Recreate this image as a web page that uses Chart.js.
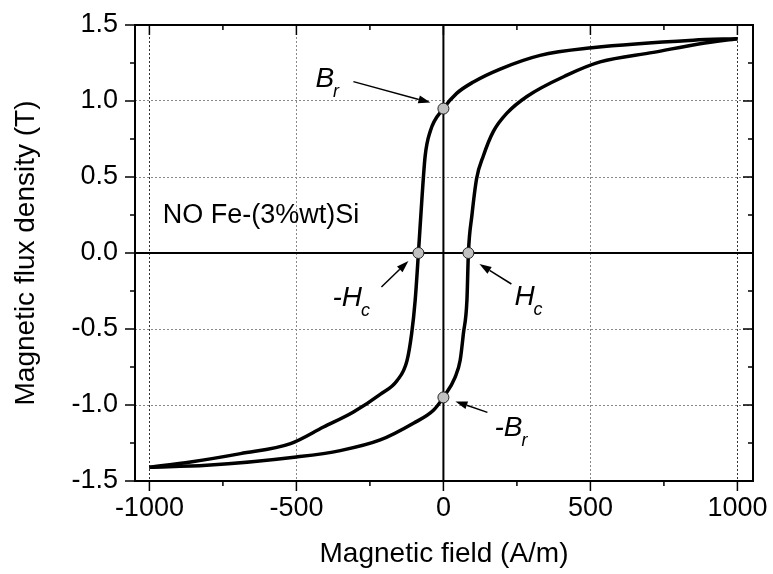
<!DOCTYPE html>
<html>
<head>
<meta charset="utf-8">
<title>Hysteresis loop</title>
<script src="https://cdn.jsdelivr.net/npm/chart.js@4.4.1/dist/chart.umd.min.js"></script>
<style>
  html, body { margin: 0; padding: 0; background: #fff; }
  #wrap { width: 773px; height: 574px; }
</style>
</head>
<body>
<div id="wrap"><canvas id="loop" width="773" height="574"></canvas></div>
<script>
// descending branch (coming down from +saturation), listed by increasing H
const upperH = [-1000, -860, -690, -520, -408, -306, -215, -158, -124, -108, -96, -85, -73, -62, -45, 0, 45, 102, 193, 329, 505, 850, 1000];
const upperB = [-1.41, -1.375, -1.32, -1.254, -1.145, -1.046, -0.93, -0.84, -0.71, -0.53, -0.31, 0, 0.36, 0.64, 0.80, 0.95, 1.05, 1.125, 1.21, 1.30, 1.35, 1.40, 1.41];

// ascending branch (coming up from -saturation)
const lowerH = [-1000, -805, -500, -351, -215, -102, -34, 0, 40, 57, 68, 80, 85, 97, 113, 136, 170, 216, 284, 420, 533, 714, 873, 1000];
const lowerB = [-1.41, -1.397, -1.342, -1.30, -1.23, -1.12, -1.035, -0.95, -0.816, -0.706, -0.53, -0.31, 0, 0.248, 0.49, 0.64, 0.80, 0.92, 1.03, 1.17, 1.257, 1.32, 1.377, 1.41];

// remanence (Br) and coercive field (Hc) points
const markH = [0, -85, 85, 0];
const markB = [0.95, 0, 0, -0.95];
const markName = ['B', '-H', 'H', '-B'];
const markSub = ['r', 'c', 'c', 'r'];

const xTicks = [-1000, -750, -500, -250, 0, 250, 500, 750, 1000];
const yTicks = [-1.5, -1.25, -1.0, -0.75, -0.5, -0.25, 0, 0.25, 0.5, 0.75, 1.0, 1.25, 1.5];

const FONT = '"Liberation Sans", Arial, sans-serif';

const toPts = (xs, ys) => xs.map((x, i) => ({ x: x, y: ys[i] }));

// where each marker's label and arrow sit, in pixels from the marker
const notes = [
  { tx: -128, ty: -22, from: [-90, -27], to: [-13, -6] },
  { tx: -86, ty: 53, from: [-37, 34], to: [-10, 8] },
  { tx: 46, ty: 52, from: [43, 31], to: [11, 11] },
  { tx: 51, ty: 39, from: [44, 15], to: [12, 4] }
];

function arrow(ctx, x1, y1, x2, y2) {
  const a = Math.atan2(y2 - y1, x2 - x1);
  const len = 12, half = 4;
  const bx = x2 - len * Math.cos(a), by = y2 - len * Math.sin(a);
  ctx.beginPath();
  ctx.moveTo(x1, y1);
  ctx.lineTo(bx, by);
  ctx.stroke();
  ctx.beginPath();
  ctx.moveTo(x2, y2);
  ctx.lineTo(bx + half * Math.sin(a), by - half * Math.cos(a));
  ctx.lineTo(bx - half * Math.sin(a), by + half * Math.cos(a));
  ctx.closePath();
  ctx.fill();
}

const isMajorY = v => Math.abs(v * 2 - Math.round(v * 2)) < 1e-6;

const decor = {
  id: 'decor',
  beforeDatasetsDraw(chart) {
    const { ctx, chartArea: a, scales: { x, y } } = chart;
    ctx.save();
    ctx.strokeStyle = '#000';
    ctx.lineWidth = 2;
    ctx.beginPath();
    ctx.moveTo(x.getPixelForValue(0), a.top);
    ctx.lineTo(x.getPixelForValue(0), a.bottom);
    ctx.moveTo(a.left, y.getPixelForValue(0));
    ctx.lineTo(a.right, y.getPixelForValue(0));
    ctx.stroke();
    ctx.restore();
  },
  afterDatasetsDraw(chart) {
    const { ctx, chartArea: a, scales: { x, y } } = chart;
    ctx.save();
    ctx.strokeStyle = '#000';
    ctx.fillStyle = '#000';

    // frame and tick marks (out on bottom/left, in on top/right)
    ctx.lineWidth = 2;
    ctx.strokeRect(a.left, a.top, a.right - a.left, a.bottom - a.top);
    ctx.lineWidth = 1.5;
    ctx.beginPath();
    xTicks.forEach(v => {
      const px = x.getPixelForValue(v);
      const len = v % 500 === 0 ? 10 : 5;
      ctx.moveTo(px, a.bottom); ctx.lineTo(px, a.bottom + len);
      ctx.moveTo(px, a.top); ctx.lineTo(px, a.top + len);
    });
    yTicks.forEach(v => {
      const py = y.getPixelForValue(v);
      const len = isMajorY(v) ? 10 : 5;
      ctx.moveTo(a.left, py); ctx.lineTo(a.left - len, py);
      ctx.moveTo(a.right, py); ctx.lineTo(a.right - len, py);
    });
    ctx.stroke();

    // sample name
    ctx.font = '27px ' + FONT;
    ctx.textBaseline = 'alphabetic';
    ctx.textAlign = 'left';
    ctx.fillText('NO Fe-(3%wt)Si', x.getPixelForValue(-955), y.getPixelForValue(0.2));

    // Br / Hc labels with arrows
    ctx.lineWidth = 1.5;
    markH.forEach((h, i) => {
      const px = x.getPixelForValue(h), py = y.getPixelForValue(markB[i]);
      const n = notes[i];
      ctx.font = 'italic 28px ' + FONT;
      const tx = px + n.tx, ty = py + n.ty;
      ctx.fillText(markName[i], tx, ty);
      const w = ctx.measureText(markName[i]).width;
      ctx.font = 'italic 18px ' + FONT;
      ctx.fillText(markSub[i], tx + w - 1, ty + 10);
      arrow(ctx, px + n.from[0], py + n.from[1], px + n.to[0], py + n.to[1]);
    });
    ctx.restore();
  }
};

new Chart(document.getElementById('loop'), {
  type: 'scatter',
  data: {
    datasets: [
      {
        label: 'points',
        data: toPts(markH, markB),
        showLine: false,
        pointRadius: 5.5,
        pointBackgroundColor: '#c0c0c0',
        pointBorderColor: '#222',
        pointBorderWidth: 1
      },
      {
        label: 'descending',
        data: toPts(upperH, upperB),
        showLine: true,
        borderColor: '#000',
        borderWidth: 3.5,
        pointRadius: 0,
        cubicInterpolationMode: 'monotone'
      },
      {
        label: 'ascending',
        data: toPts(lowerH, lowerB),
        showLine: true,
        borderColor: '#000',
        borderWidth: 3.5,
        pointRadius: 0,
        cubicInterpolationMode: 'monotone'
      }
    ]
  },
  options: {
    responsive: false,
    devicePixelRatio: 1,
    animation: false,
    layout: { padding: { left: 0, top: 25, right: 20, bottom: 0 } },
    plugins: { legend: { display: false }, tooltip: { enabled: false } },
    scales: {
      x: {
        type: 'linear',
        min: -1049,
        max: 1053,
        afterBuildTicks: s => { s.ticks = xTicks.map(v => ({ value: v })); },
        afterFit: s => { s.height = 93; s.paddingLeft = 0; s.paddingRight = 0; },
        ticks: {
          autoSkip: false,
          maxRotation: 0,
          padding: 11,
          color: '#000',
          font: { family: FONT, size: 27 },
          callback: v => (v % 500 === 0 ? String(v) : '')
        },
        grid: {
          drawTicks: false,
          lineWidth: 1,
          color: c => {
            const v = c.tick ? c.tick.value : null;
            if (v === 0 || v % 500 !== 0) return 'rgba(0,0,0,0)';
            return Math.abs(v) === 1000 ? '#333' : '#8a8a8a';
          }
        },
        border: { display: false, dash: [2, 2] },
        title: {
          display: true,
          text: 'Magnetic field (A/m)',
          color: '#000',
          font: { family: FONT, size: 28 },
          padding: { top: 0, bottom: 3 }
        }
      },
      y: {
        type: 'linear',
        min: -1.5,
        max: 1.5,
        afterBuildTicks: s => { s.ticks = yTicks.map(v => ({ value: v })); },
        afterFit: s => { s.width = 135; s.paddingTop = 0; s.paddingBottom = 0; },
        ticks: {
          autoSkip: false,
          padding: 17,
          color: '#000',
          font: { family: FONT, size: 27 },
          callback: v => (isMajorY(v) ? v.toFixed(1) : '')
        },
        grid: {
          drawTicks: false,
          lineWidth: 1,
          color: c => {
            const v = c.tick ? c.tick.value : null;
            if (v === 0 || Math.abs(v) === 1.5 || !isMajorY(v)) return 'rgba(0,0,0,0)';
            return '#8a8a8a';
          }
        },
        border: { display: false, dash: [2, 2] },
        title: {
          display: true,
          text: 'Magnetic flux density (T)',
          color: '#000',
          font: { family: FONT, size: 28 },
          padding: { top: 9, bottom: 0 }
        }
      }
    }
  },
  plugins: [decor]
});
</script>
</body>
</html>
